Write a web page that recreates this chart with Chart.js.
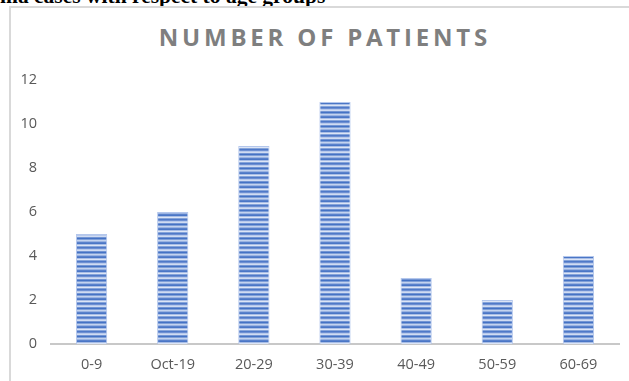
<!DOCTYPE html>
<html>
<head>
<meta charset="utf-8">
<script src="https://cdn.jsdelivr.net/npm/chart.js@4.4.0/dist/chart.umd.min.js"></script>
<style>
  body { margin: 0; background: #fff; overflow: hidden; }
  #page { position: relative; width: 629px; height: 381px; overflow: hidden; }
  #heading {
    position: absolute; left: 0; top: -15px; white-space: nowrap;
    font: bold 21.5px/22px "Liberation Serif", "Times New Roman", serif; color: #000;
  }
  #box {
    position: absolute; left: 9px; top: 6px; width: 640px; height: 400px;
    border-left: 2px solid #d9d9d9; border-top: 2px solid #d9d9d9;
  }
  #title {
    position: absolute; left: 9px; width: 628px; top: 21px; text-align: center;
    font: bold 24px/32px "Open Sans", sans-serif; color: #7f7f7f;
    letter-spacing: 3.8px; padding-left: 3.8px; box-sizing: border-box;
  }
  #wrap { position: absolute; left: 0; top: 0; width: 629px; height: 381px; }
</style>
</head>
<body>
<div id="page">
  <div id="heading">ma cases with respect to age groups</div>
  <div id="box"></div>
  <div id="title">NUMBER OF PATIENTS</div>
  <div id="wrap"><canvas id="chart_patients"></canvas></div>
</div>
<script>
var labels = ['0-9', 'Oct-19', '20-29', '30-39', '40-49', '50-59', '60-69']
var patients = [5, 6, 9, 11, 3, 2, 4]
var yTicks = [0, 2, 4, 6, 8, 10, 12]

// striped blue fill like the excel gradient bars
function stripes() {
    var rows = ['#4472c4', '#7f9fd8', '#c3d3ef', '#9ab3e2', '#5a82cc', '#4a76c6',
                '#a9bee6', '#dce5f6', '#86a4da', '#4f79c8', '#6d8fd2', '#b7c9ec',
                '#d0dcf2', '#7395d4']
    var c = document.createElement('canvas');
    c.width = 4;
    c.height = rows.length;
    var g = c.getContext('2d');
    rows.forEach((col, i) => {
        g.fillStyle = col;
        g.fillRect(0, i, 4, 1);
    })
    return g.createPattern(c, 'repeat');
}

var ctx = document.getElementById('chart_patients');

var chartPatients = new Chart(ctx, {
    type: 'bar',
    data: {
        labels: labels,
        datasets: [{
            label: 'Number of patients',
            data: patients,
            backgroundColor: stripes(),
            borderColor: '#b4c7ec',
            borderWidth: 1,
            categoryPercentage: 1,
            barPercentage: 0.385
        }]
    },
    options: {
        responsive: true,
        maintainAspectRatio: false,
        animation: false,
        layout: {
            padding: { left: 9, right: 10, top: 80, bottom: 0 }
        },
        plugins: {
            legend: { display: false },
            tooltip: { enabled: false },
            title: { display: false }
        },
        scales: {
            y: {
                min: 0,
                max: 12,
                afterFit: function(scale) { scale.width = 42; },
                afterBuildTicks: function(scale) {
                    scale.ticks = yTicks.map(v => ({ value: v }));
                },
                grid: { display: false, drawTicks: false },
                border: { display: false },
                ticks: {
                    padding: 14,
                    color: '#595959',
                    font: { family: 'Open Sans', size: 14.5 }
                }
            },
            x: {
                afterFit: function(scale) { scale.height = 37; },
                grid: { display: false, drawTicks: false },
                border: { display: true, color: '#c8c8c8', width: 2 },
                ticks: {
                    padding: 12,
                    maxRotation: 0,
                    color: '#595959',
                    font: { family: 'Open Sans', size: 14.5 }
                }
            }
        }
    }
});
</script>
</body>
</html>
